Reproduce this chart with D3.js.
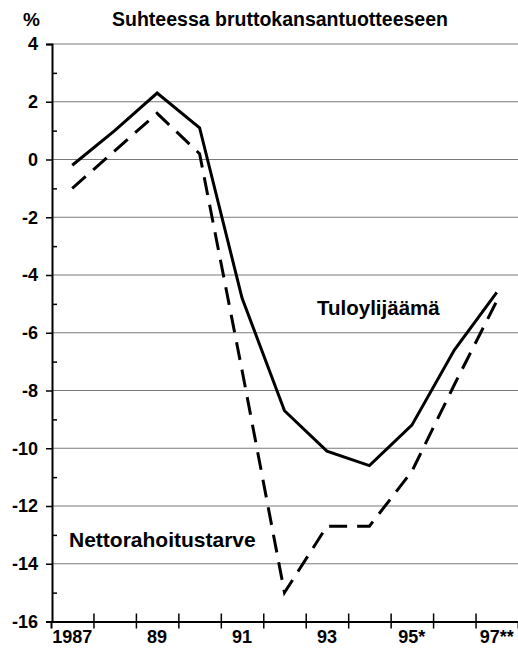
<!DOCTYPE html>
<html>
<head>
<meta charset="utf-8">
<script src="https://cdn.jsdelivr.net/npm/d3@7"></script>
<style>
    body { margin: 0; background: #fff; }
    text { font-family: Arial, 'Liberation Sans', Helvetica, sans-serif; font-weight: bold; fill: #000; }
</style>
</head>
<body>
<div id="main"></div>
<script>

const years = [1987, 1988, 1989, 1990, 1991, 1992, 1993, 1994, 1995, 1996, 1997];
const yearLabels = ['1987', '89', '91', '93', '95*', '97**'];
const labelYears = [1987, 1989, 1991, 1993, 1995, 1997];

const tuloylijaama = [-0.2, 1.0, 2.3, 1.1, -4.8, -8.7, -10.1, -10.6, -9.2, -6.6, -4.6];
const nettorahoitustarve = [-1.0, 0.3, 1.6, 0.2, -7.3, -15.0, -12.7, -12.7, -10.8, -7.8, -4.9];

const yTicks = [4, 2, 0, -2, -4, -6, -8, -10, -12, -14, -16];
const yMinor = [3, 1, -1, -3, -5, -7, -9, -11, -13, -15];

const w = 518;
const h = 657;

const svg = d3.select('#main')
    .append('svg')
    .attr('width', w).attr('height', h);

const xScale = d3.scaleLinear().domain([1986.5, 1997.5]).range([51, 518]);
const yScale = d3.scaleLinear().domain([-16, 4]).range([621.5, 44]);

// title
svg.append('text').attr('x', 280).attr('y', 26).attr('text-anchor', 'middle')
    .style('font-size', '19.5px').text('Suhteessa bruttokansantuotteeseen');
svg.append('text').attr('x', 23).attr('y', 26).style('font-size', '19px').text('%');

// gridlines
svg.append('g').selectAll('line').data(yTicks.filter(d => d > -16)).enter().append('line')
    .attr('x1', 52).attr('x2', w)
    .attr('y1', d => yScale(d)).attr('y2', d => yScale(d))
    .attr('stroke', '#7a7a7a').attr('stroke-width', 1.2);

// y-axis (plain hyphen for negatives, as in the print)
const yAxis = d3.axisLeft(yScale).tickValues(yTicks).tickSize(6).tickPadding(8).tickFormat(d => String(d));
const gy = svg.append('g').attr('transform', 'translate(52,0)').call(yAxis);
gy.select('.domain').attr('stroke', '#000').attr('stroke-width', 2);
gy.selectAll('.tick line').attr('stroke', '#000').attr('stroke-width', 1.5);
gy.selectAll('.tick text').style('font-size', '18px');

const yMinorAxis = d3.axisRight(yScale).tickValues(yMinor).tickSize(5).tickFormat('');
const gym = svg.append('g').attr('transform', 'translate(52,0)').call(yMinorAxis);
gym.select('.domain').remove();
gym.selectAll('.tick line').attr('stroke', '#000').attr('stroke-width', 1.5);

// x-axis
const xAxis = d3.axisBottom(xScale).tickValues(years.slice(0, -1).map(d => d + 0.5)).tickSize(7).tickFormat('');
const gx = svg.append('g').attr('transform', `translate(0,${yScale(-16)})`).call(xAxis);
gx.select('.domain').attr('stroke', '#000').attr('stroke-width', 2);
gx.selectAll('.tick line').attr('y1', -8).attr('stroke', '#000').attr('stroke-width', 1.5);

svg.append('g').selectAll('text').data(labelYears).enter().append('text')
    .attr('x', d => xScale(d)).attr('y', 643)
    .attr('text-anchor', 'middle').style('font-size', '18px')
    .text((d, i) => yearLabels[i]);

// lines
const line = d3.line()
    .x((d, i) => xScale(years[i]))
    .y(d => yScale(d));

svg.append('path').datum(nettorahoitustarve).attr('d', line)
    .attr('fill', 'none').attr('stroke', '#000').attr('stroke-width', 3)
    .attr('stroke-dasharray', '18,10');

svg.append('path').datum(tuloylijaama).attr('d', line)
    .attr('fill', 'none').attr('stroke', '#000').attr('stroke-width', 3)
    .attr('stroke-linejoin', 'miter');

// series labels
svg.append('text').attr('x', 317).attr('y', 315).style('font-size', '20.5px').text('Tuloylijäämä');
svg.append('text').attr('x', 69).attr('y', 547).style('font-size', '21px').text('Nettorahoitustarve');

</script>
</body>
</html>
